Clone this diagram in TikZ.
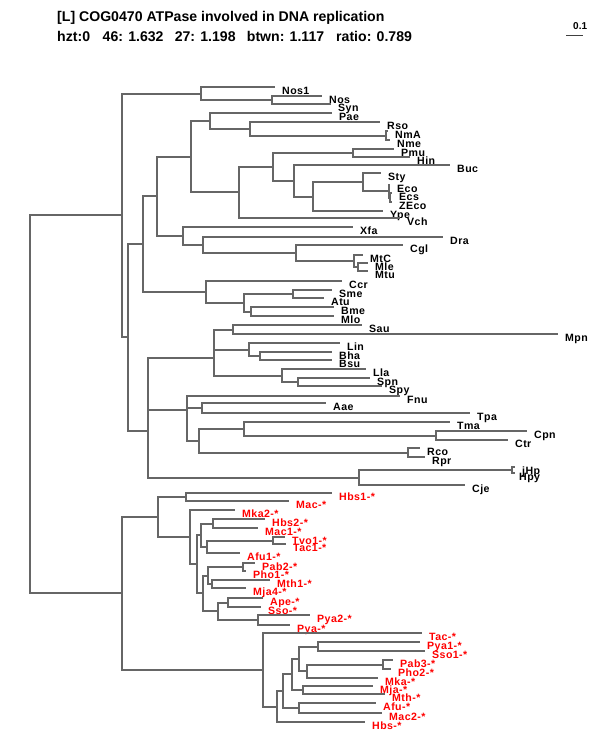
\documentclass[tikz,border=0pt]{standalone}
\usepackage{fontspec}
\setmainfont{Liberation Sans}
\newfontfamily\labfont{Liberation Sans}[LetterSpace=4]
\definecolor{brgray}{HTML}{666666}
\definecolor{lred}{HTML}{FF0000}
\newcommand\LeafB[4][]{\coordinate (b#2) at (#3,#4); \node[leaf,#1] (lb#2) at (b#2) {#2};}
\newcommand\LeafR[4][]{\coordinate (r#2) at (#3,#4); \node[rleaf,#1] (lr#2) at (r#2) {#2-*};}
\newcommand\Br[2]{\draw[branch] (#1) |- (#2);}
\begin{document}
\begin{tikzpicture}[x=1pt,y=-1pt,
  branch/.style={draw=brgray, line width=2pt},
  leaf/.style={anchor=base west, inner sep=0pt, xshift=7pt, yshift=-7pt, font=\labfont\bfseries\fontsize{10.6}{12}\selectfont},
  rleaf/.style={leaf, text=lred},
  hdr/.style={anchor=base west, inner sep=0pt, font=\bfseries\fontsize{14.1}{16}\selectfont}]
\fill[white] (0,0) rectangle (600,750);
\useasboundingbox (0,0) rectangle (600,750);
% header
\node[hdr] (title) at (57,21) {[L] COG0470 ATPase involved in DNA replication};
\node[hdr] (s1) at (57,41) {hzt:0};
\node[hdr] (s2) at (102.5,41) {46: 1.632};
\node[hdr] (s3) at (174.6,41) {27: 1.198};
\node[hdr] (s4) at (246.7,41) {btwn: 1.117};
\node[hdr] (s5) at (336,41) {ratio: 0.789};
\coordinate (sbA) at (566,35);
\coordinate (sbB) at (583,35);
\draw[line width=0.9pt, black!75] (sbA) -- (sbB);
\node[anchor=base west, inner sep=0pt, font=\bfseries\fontsize{10}{12}\selectfont] (sbl) at (573,29) {0.1};
% ---------- black leaves
\LeafB{Nos1}{275}{87}
\LeafB{Nos}{322}{96}
\LeafB{Syn}{331}{104}
\LeafB{Pae}{332}{113}
\LeafB{Rso}{380}{122}
\LeafB{NmA}{388}{131}
\LeafB{Nme}{390}{140}
\LeafB{Pmu}{394}{149}
\LeafB{Hin}{410}{157}
\LeafB{Buc}{450}{165}
\LeafB{Sty}{381}{173}
\LeafB{Eco}{390}{185}
\LeafB{Ecs}{392}{193}
\LeafB{ZEco}{392}{202}
\LeafB{Ype}{383}{211}
\LeafB{Vch}{400}{218}
\LeafB{Xfa}{353}{227}
\LeafB{Dra}{443}{237}
\LeafB{Cgl}{403}{245}
\LeafB{MtC}{363}{255}
\LeafB{Mle}{368}{263}
\LeafB{Mtu}{368}{271}
\LeafB{Ccr}{342}{281}
\LeafB{Sme}{332}{290}
\LeafB{Atu}{324}{298}
\LeafB{Bme}{334}{307}
\LeafB{Mlo}{334}{316}
\LeafB{Sau}{362}{325}
\LeafB{Mpn}{558}{334}
\LeafB{Lin}{340}{343}
\LeafB{Bha}{332}{352}
\LeafB{Bsu}{332}{360}
\LeafB{Lla}{366}{369}
\LeafB{Spn}{370}{378}
\LeafB{Spy}{382}{386}
\LeafB{Fnu}{400}{396}
\LeafB{Aae}{326}{403}
\LeafB{Tpa}{470}{413}
\LeafB{Tma}{450}{422}
\LeafB{Cpn}{527}{431}
\LeafB{Ctr}{508}{440}
\LeafB{Rco}{420}{448}
\LeafB{Rpr}{425}{457}
\LeafB{jHp}{515}{467}
\LeafB[xshift=-3pt]{Hpy}{515}{473}
\LeafB{Cje}{465}{485}
% ---------- red leaves
\LeafR{Hbs1}{332}{493}
\LeafR{Mac}{289}{501}
\LeafR{Mka2}{235}{510}
\LeafR{Hbs2}{265}{519}
\LeafR{Mac1}{258}{528}
\LeafR{Tvo1}{285}{537}
\LeafR{Tac1}{286}{544}
\LeafR{Afu1}{240}{553}
\LeafR{Pab2}{255}{563}
\LeafR{Pho1}{246}{571}
\LeafR{Mth1}{270}{580}
\LeafR{Mja4}{246}{588}
\LeafR{Ape}{263}{598}
\LeafR{Sso}{261}{607}
\LeafR{Pya2}{310}{615}
\LeafR{Pya}{290}{625}
\LeafR{Tac}{422}{633}
\LeafR{Pya1}{420}{642}
\LeafR{Sso1}{425}{651}
\LeafR{Pab3}{393}{660}
\LeafR{Pho2}{391}{669}
\LeafR{Mka}{378}{678}
\LeafR{Mja}{373}{686}
\LeafR{Mth}{385}{694}
\LeafR{Afu}{376}{703}
\LeafR{Mac2}{382}{713}
\LeafR{Hbs}{365}{722}
% ---------- internal nodes
\coordinate (iNos) at (272,100);
\coordinate (iNos1) at (201,93.5);
\coordinate (iNm) at (386,135.5);
\coordinate (iRso) at (250,128.75);
\coordinate (iPae) at (210,120.9);
\coordinate (iPmu) at (353,153);
\coordinate (iEcs) at (390,197.5);
\coordinate (iEco) at (389,191.25);
\coordinate (iSty) at (363,182.1);
\coordinate (iYpe) at (313,196.6);
\coordinate (iBuc) at (294,180.8);
\coordinate (iPmB) at (273,166.9);
\coordinate (iVch) at (239,192.45);
\coordinate (i191) at (191,156.7);
\coordinate (iMle) at (358,267);
\coordinate (iMtC) at (354,261);
\coordinate (iCgl) at (296,253);
\coordinate (iDra) at (203,245);
\coordinate (iXfa) at (183,236);
\coordinate (i157) at (157,196.35);
\coordinate (iSme) at (293,294);
\coordinate (iBme) at (251,311.5);
\coordinate (iAtu) at (244,302.75);
\coordinate (iCcr) at (206,291.9);
\coordinate (i143) at (143,244.1);
\coordinate (iSau) at (233,329.5);
\coordinate (iBha) at (260,356);
\coordinate (iLin) at (249,349.5);
\coordinate (iSL) at (214,339.5);
\coordinate (iSpn) at (298,382);
\coordinate (iLla) at (282,375.5);
\coordinate (i214) at (214,357.5);
\coordinate (iAae) at (202,408);
\coordinate (iCpn) at (436,435.5);
\coordinate (iTma) at (244,428.75);
\coordinate (iRco) at (408,452.5);
\coordinate (iTR) at (199,440.6);
\coordinate (iAT) at (187,424.3);
\coordinate (i187) at (187,410.15);
\coordinate (iHp) at (512,470);
\coordinate (iCje) at (359,477.5);
\coordinate (i148b) at (148,383.8);
\coordinate (i148) at (148,430.65);
\coordinate (i128) at (128,337.4);
\coordinate (i122) at (122,215.45);
\coordinate (iHbs1) at (186,497);
\coordinate (iHbs2) at (213,523.5);
\coordinate (iTvo) at (273,540.5);
\coordinate (iTvA) at (207,546.75);
\coordinate (i201) at (201,535.1);
\coordinate (iPab2) at (243,567);
\coordinate (iMth1) at (212,584);
\coordinate (i208) at (208,575.5);
\coordinate (iApe) at (228,602.5);
\coordinate (iPya) at (258,620);
\coordinate (i218) at (218,611.25);
\coordinate (i203) at (203,593.4);
\coordinate (i197) at (197,564.2);
\coordinate (i190) at (190,537.1);
\coordinate (i158) at (158,517);
\coordinate (iPya1) at (318,646.5);
\coordinate (iPab3) at (383,664.5);
\coordinate (iMka) at (307,671.25);
\coordinate (iPS) at (299,658.9);
\coordinate (iMja) at (303,690);
\coordinate (iPM) at (292,674.4);
\coordinate (iAfu) at (299,708);
\coordinate (iPA) at (283,691.2);
\coordinate (iHbs) at (277,706.6);
\coordinate (i263) at (263,669.8);
\coordinate (i122r) at (122,593.4);
\coordinate (root) at (30,404.4);
% ---------- branches
\Br{iNos}{bNos} \Br{iNos}{bSyn}
\Br{iNos1}{bNos1} \Br{iNos1}{iNos}
\Br{iNm}{bNmA} \Br{iNm}{bNme}
\Br{iRso}{bRso} \Br{iRso}{iNm}
\Br{iPae}{bPae} \Br{iPae}{iRso}
\Br{iPmu}{bPmu} \Br{iPmu}{bHin}
\Br{iEcs}{bEcs} \Br{iEcs}{bZEco}
\Br{iEco}{bEco} \Br{iEco}{iEcs}
\Br{iSty}{bSty} \Br{iSty}{iEco}
\Br{iYpe}{iSty} \Br{iYpe}{bYpe}
\Br{iBuc}{bBuc} \Br{iBuc}{iYpe}
\Br{iPmB}{iPmu} \Br{iPmB}{iBuc}
\Br{iVch}{iPmB} \Br{iVch}{bVch}
\Br{i191}{iPae} \Br{i191}{iVch}
\Br{iMle}{bMle} \Br{iMle}{bMtu}
\Br{iMtC}{bMtC} \Br{iMtC}{iMle}
\Br{iCgl}{bCgl} \Br{iCgl}{iMtC}
\Br{iDra}{bDra} \Br{iDra}{iCgl}
\Br{iXfa}{bXfa} \Br{iXfa}{iDra}
\Br{i157}{i191} \Br{i157}{iXfa}
\Br{iSme}{bSme} \Br{iSme}{bAtu}
\Br{iBme}{bBme} \Br{iBme}{bMlo}
\Br{iAtu}{iSme} \Br{iAtu}{iBme}
\Br{iCcr}{bCcr} \Br{iCcr}{iAtu}
\Br{i143}{i157} \Br{i143}{iCcr}
\Br{iSau}{bSau} \Br{iSau}{bMpn}
\Br{iBha}{bBha} \Br{iBha}{bBsu}
\Br{iLin}{bLin} \Br{iLin}{iBha}
\Br{iSL}{iSau} \Br{iSL}{iLin}
\Br{iSpn}{bSpn} \Br{iSpn}{bSpy}
\Br{iLla}{bLla} \Br{iLla}{iSpn}
\Br{i214}{iSL} \Br{i214}{iLla}
\Br{iAae}{bAae} \Br{iAae}{bTpa}
\Br{iCpn}{bCpn} \Br{iCpn}{bCtr}
\Br{iTma}{bTma} \Br{iTma}{iCpn}
\Br{iRco}{bRco} \Br{iRco}{bRpr}
\Br{iTR}{iTma} \Br{iTR}{iRco}
\Br{iAT}{iAae} \Br{iAT}{iTR}
\Br{i187}{bFnu} \Br{i187}{iAT}
\Br{iHp}{bjHp} \Br{iHp}{bHpy}
\Br{iCje}{iHp} \Br{iCje}{bCje}
\Br{i148b}{i214} \Br{i148b}{i187}
\Br{i148}{i148b} \Br{i148}{iCje}
\Br{i128}{i143} \Br{i128}{i148}
\Br{i122}{iNos1} \Br{i122}{i128}
\Br{iHbs1}{rHbs1} \Br{iHbs1}{rMac}
\Br{iHbs2}{rHbs2} \Br{iHbs2}{rMac1}
\Br{iTvo}{rTvo1} \Br{iTvo}{rTac1}
\Br{iTvA}{iTvo} \Br{iTvA}{rAfu1}
\Br{i201}{iHbs2} \Br{i201}{iTvA}
\Br{iPab2}{rPab2} \Br{iPab2}{rPho1}
\Br{iMth1}{rMth1} \Br{iMth1}{rMja4}
\Br{i208}{iPab2} \Br{i208}{iMth1}
\Br{iApe}{rApe} \Br{iApe}{rSso}
\Br{iPya}{rPya2} \Br{iPya}{rPya}
\Br{i218}{iApe} \Br{i218}{iPya}
\Br{i203}{i208} \Br{i203}{i218}
\Br{i197}{i201} \Br{i197}{i203}
\Br{i190}{rMka2} \Br{i190}{i197}
\Br{i158}{iHbs1} \Br{i158}{i190}
\Br{iPya1}{rPya1} \Br{iPya1}{rSso1}
\Br{iPab3}{rPab3} \Br{iPab3}{rPho2}
\Br{iMka}{iPab3} \Br{iMka}{rMka}
\Br{iPS}{iPya1} \Br{iPS}{iMka}
\Br{iMja}{rMja} \Br{iMja}{rMth}
\Br{iPM}{iPS} \Br{iPM}{iMja}
\Br{iAfu}{rAfu} \Br{iAfu}{rMac2}
\Br{iPA}{iPM} \Br{iPA}{iAfu}
\Br{iHbs}{iPA} \Br{iHbs}{rHbs}
\Br{i263}{rTac} \Br{i263}{iHbs}
\Br{i122r}{i158} \Br{i122r}{i263}
\Br{root}{i122} \Br{root}{i122r}
\end{tikzpicture}
\end{document}
